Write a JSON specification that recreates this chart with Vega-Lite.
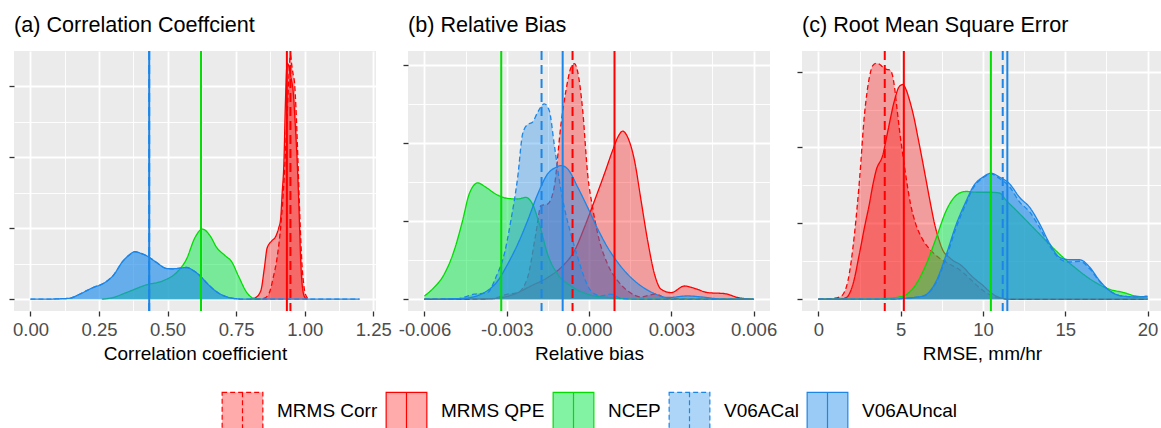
{
  "$schema": "https://vega.github.io/schema/vega-lite/v6.json",
  "padding": {"left": 8, "top": 15, "right": 0, "bottom": 0},
  "bounds": "flush",
  "spacing": 32,
  "datasets": {
    "dens": [
      {"p":"a","s":"MRMS Corr","x":0.82,"y":0},{"p":"a","s":"MRMS Corr","x":0.85,"y":0.05},{"p":"a","s":"MRMS Corr","x":0.87,"y":0.4},{"p":"a","s":"MRMS Corr","x":0.885,"y":1.5},{"p":"a","s":"MRMS Corr","x":0.9,"y":3.0},{"p":"a","s":"MRMS Corr","x":0.912,"y":5.0},{"p":"a","s":"MRMS Corr","x":0.925,"y":8.5},{"p":"a","s":"MRMS Corr","x":0.935,"y":12.5},{"p":"a","s":"MRMS Corr","x":0.942,"y":15.5},{"p":"a","s":"MRMS Corr","x":0.948,"y":17.2},{"p":"a","s":"MRMS Corr","x":0.952,"y":16.6},{"p":"a","s":"MRMS Corr","x":0.958,"y":15.8},{"p":"a","s":"MRMS Corr","x":0.963,"y":15.2},{"p":"a","s":"MRMS Corr","x":0.968,"y":13.5},{"p":"a","s":"MRMS Corr","x":0.975,"y":10.0},{"p":"a","s":"MRMS Corr","x":0.982,"y":6.0},{"p":"a","s":"MRMS Corr","x":0.99,"y":2.5},{"p":"a","s":"MRMS Corr","x":0.998,"y":0.8},{"p":"a","s":"MRMS Corr","x":1.006,"y":0.2},{"p":"a","s":"MRMS Corr","x":1.015,"y":0},
      {"p":"a","s":"MRMS QPE","x":0.8,"y":0},{"p":"a","s":"MRMS QPE","x":0.82,"y":0.1},{"p":"a","s":"MRMS QPE","x":0.84,"y":0.6},{"p":"a","s":"MRMS QPE","x":0.853,"y":2.2},{"p":"a","s":"MRMS QPE","x":0.863,"y":3.6},{"p":"a","s":"MRMS QPE","x":0.88,"y":4.1},{"p":"a","s":"MRMS QPE","x":0.894,"y":4.4},{"p":"a","s":"MRMS QPE","x":0.905,"y":5.0},{"p":"a","s":"MRMS QPE","x":0.912,"y":5.6},{"p":"a","s":"MRMS QPE","x":0.918,"y":7.5},{"p":"a","s":"MRMS QPE","x":0.924,"y":9.5},{"p":"a","s":"MRMS QPE","x":0.93,"y":14.0},{"p":"a","s":"MRMS QPE","x":0.936,"y":16.6},{"p":"a","s":"MRMS QPE","x":0.942,"y":16.4},{"p":"a","s":"MRMS QPE","x":0.95,"y":15.6},{"p":"a","s":"MRMS QPE","x":0.958,"y":14.6},{"p":"a","s":"MRMS QPE","x":0.965,"y":12.5},{"p":"a","s":"MRMS QPE","x":0.973,"y":9.5},{"p":"a","s":"MRMS QPE","x":0.979,"y":6.5},{"p":"a","s":"MRMS QPE","x":0.985,"y":2.9},{"p":"a","s":"MRMS QPE","x":0.992,"y":0.8},{"p":"a","s":"MRMS QPE","x":1.0,"y":0.15},{"p":"a","s":"MRMS QPE","x":1.01,"y":0},
      {"p":"a","s":"NCEP","x":0.26,"y":0},{"p":"a","s":"NCEP","x":0.301,"y":0.12},{"p":"a","s":"NCEP","x":0.35,"y":0.47},{"p":"a","s":"NCEP","x":0.423,"y":1.01},{"p":"a","s":"NCEP","x":0.484,"y":1.3},{"p":"a","s":"NCEP","x":0.533,"y":1.88},{"p":"a","s":"NCEP","x":0.569,"y":2.82},{"p":"a","s":"NCEP","x":0.6,"y":4.34},{"p":"a","s":"NCEP","x":0.627,"y":4.93},{"p":"a","s":"NCEP","x":0.655,"y":4.46},{"p":"a","s":"NCEP","x":0.679,"y":3.64},{"p":"a","s":"NCEP","x":0.71,"y":3.06},{"p":"a","s":"NCEP","x":0.734,"y":2.63},{"p":"a","s":"NCEP","x":0.758,"y":1.65},{"p":"a","s":"NCEP","x":0.789,"y":0.47},{"p":"a","s":"NCEP","x":0.813,"y":0.07},{"p":"a","s":"NCEP","x":0.84,"y":0},
      {"p":"a","s":"V06ACal","x":0,"y":0},{"p":"a","s":"V06ACal","x":0.05,"y":0},{"p":"a","s":"V06ACal","x":0.094,"y":0.02},{"p":"a","s":"V06ACal","x":0.143,"y":0.07},{"p":"a","s":"V06ACal","x":0.179,"y":0.35},{"p":"a","s":"V06ACal","x":0.228,"y":0.82},{"p":"a","s":"V06ACal","x":0.265,"y":1.1},{"p":"a","s":"V06ACal","x":0.301,"y":1.65},{"p":"a","s":"V06ACal","x":0.338,"y":2.7},{"p":"a","s":"V06ACal","x":0.36,"y":3.1},{"p":"a","s":"V06ACal","x":0.38,"y":3.34},{"p":"a","s":"V06ACal","x":0.4,"y":3.25},{"p":"a","s":"V06ACal","x":0.423,"y":3.06},{"p":"a","s":"V06ACal","x":0.46,"y":2.58},{"p":"a","s":"V06ACal","x":0.496,"y":2.16},{"p":"a","s":"V06ACal","x":0.52,"y":2.14},{"p":"a","s":"V06ACal","x":0.545,"y":2.18},{"p":"a","s":"V06ACal","x":0.569,"y":2.23},{"p":"a","s":"V06ACal","x":0.595,"y":2.0},{"p":"a","s":"V06ACal","x":0.618,"y":1.65},{"p":"a","s":"V06ACal","x":0.645,"y":1.1},{"p":"a","s":"V06ACal","x":0.667,"y":0.7},{"p":"a","s":"V06ACal","x":0.69,"y":0.38},{"p":"a","s":"V06ACal","x":0.716,"y":0.17},{"p":"a","s":"V06ACal","x":0.74,"y":0.06},{"p":"a","s":"V06ACal","x":0.765,"y":0.01},{"p":"a","s":"V06ACal","x":0.8,"y":0},{"p":"a","s":"V06ACal","x":1.0,"y":0},{"p":"a","s":"V06ACal","x":1.2,"y":0},
      {"p":"a","s":"V06AUncal","x":0,"y":0},{"p":"a","s":"V06AUncal","x":0.05,"y":0},{"p":"a","s":"V06AUncal","x":0.094,"y":0.02},{"p":"a","s":"V06AUncal","x":0.143,"y":0.07},{"p":"a","s":"V06AUncal","x":0.179,"y":0.35},{"p":"a","s":"V06AUncal","x":0.228,"y":0.82},{"p":"a","s":"V06AUncal","x":0.265,"y":1.1},{"p":"a","s":"V06AUncal","x":0.301,"y":1.65},{"p":"a","s":"V06AUncal","x":0.338,"y":2.7},{"p":"a","s":"V06AUncal","x":0.36,"y":3.1},{"p":"a","s":"V06AUncal","x":0.38,"y":3.34},{"p":"a","s":"V06AUncal","x":0.4,"y":3.25},{"p":"a","s":"V06AUncal","x":0.423,"y":3.06},{"p":"a","s":"V06AUncal","x":0.46,"y":2.58},{"p":"a","s":"V06AUncal","x":0.496,"y":2.16},{"p":"a","s":"V06AUncal","x":0.52,"y":2.14},{"p":"a","s":"V06AUncal","x":0.545,"y":2.18},{"p":"a","s":"V06AUncal","x":0.569,"y":2.23},{"p":"a","s":"V06AUncal","x":0.595,"y":2.0},{"p":"a","s":"V06AUncal","x":0.618,"y":1.65},{"p":"a","s":"V06AUncal","x":0.645,"y":1.1},{"p":"a","s":"V06AUncal","x":0.667,"y":0.7},{"p":"a","s":"V06AUncal","x":0.69,"y":0.38},{"p":"a","s":"V06AUncal","x":0.716,"y":0.17},{"p":"a","s":"V06AUncal","x":0.74,"y":0.06},{"p":"a","s":"V06AUncal","x":0.765,"y":0.01},{"p":"a","s":"V06AUncal","x":0.8,"y":0},{"p":"a","s":"V06AUncal","x":1.0,"y":0},{"p":"a","s":"V06AUncal","x":1.2,"y":0},

      {"p":"b","s":"MRMS Corr","x":-0.006,"y":0},{"p":"b","s":"MRMS Corr","x":-0.00358,"y":3},{"p":"b","s":"MRMS Corr","x":-0.00297,"y":26},{"p":"b","s":"MRMS Corr","x":-0.0026,"y":34},{"p":"b","s":"MRMS Corr","x":-0.00224,"y":111},{"p":"b","s":"MRMS Corr","x":-0.00194,"y":333},{"p":"b","s":"MRMS Corr","x":-0.00175,"y":479},{"p":"b","s":"MRMS Corr","x":-0.00151,"y":487},{"p":"b","s":"MRMS Corr","x":-0.00127,"y":573},{"p":"b","s":"MRMS Corr","x":-0.00102,"y":897},{"p":"b","s":"MRMS Corr","x":-0.00084,"y":1068},{"p":"b","s":"MRMS Corr","x":-0.00066,"y":1184},{"p":"b","s":"MRMS Corr","x":-0.00053,"y":1205},{"p":"b","s":"MRMS Corr","x":-0.00041,"y":1162},{"p":"b","s":"MRMS Corr","x":-0.00023,"y":966},{"p":"b","s":"MRMS Corr","x":-0.00005,"y":641},{"p":"b","s":"MRMS Corr","x":0.00013,"y":470},{"p":"b","s":"MRMS Corr","x":0.00032,"y":333},{"p":"b","s":"MRMS Corr","x":0.00068,"y":179},{"p":"b","s":"MRMS Corr","x":0.00105,"y":94},{"p":"b","s":"MRMS Corr","x":0.00141,"y":43},{"p":"b","s":"MRMS Corr","x":0.0019,"y":12},{"p":"b","s":"MRMS Corr","x":0.00239,"y":26},{"p":"b","s":"MRMS Corr","x":0.00287,"y":5},{"p":"b","s":"MRMS Corr","x":0.0037,"y":0},{"p":"b","s":"MRMS Corr","x":0.006,"y":0},
      {"p":"b","s":"MRMS QPE","x":-0.006,"y":0},{"p":"b","s":"MRMS QPE","x":-0.00358,"y":3},{"p":"b","s":"MRMS QPE","x":-0.00273,"y":26},{"p":"b","s":"MRMS QPE","x":-0.00212,"y":68},{"p":"b","s":"MRMS QPE","x":-0.00151,"y":111},{"p":"b","s":"MRMS QPE","x":-0.0009,"y":179},{"p":"b","s":"MRMS QPE","x":-0.00053,"y":248},{"p":"b","s":"MRMS QPE","x":-0.00017,"y":367},{"p":"b","s":"MRMS QPE","x":0.0002,"y":504},{"p":"b","s":"MRMS QPE","x":0.00056,"y":641},{"p":"b","s":"MRMS QPE","x":0.00086,"y":761},{"p":"b","s":"MRMS QPE","x":0.00105,"y":829},{"p":"b","s":"MRMS QPE","x":0.00123,"y":860},{"p":"b","s":"MRMS QPE","x":0.00141,"y":829},{"p":"b","s":"MRMS QPE","x":0.00166,"y":709},{"p":"b","s":"MRMS QPE","x":0.0019,"y":504},{"p":"b","s":"MRMS QPE","x":0.00214,"y":299},{"p":"b","s":"MRMS QPE","x":0.00239,"y":128},{"p":"b","s":"MRMS QPE","x":0.00263,"y":51},{"p":"b","s":"MRMS QPE","x":0.003,"y":34},{"p":"b","s":"MRMS QPE","x":0.00348,"y":68},{"p":"b","s":"MRMS QPE","x":0.00385,"y":56},{"p":"b","s":"MRMS QPE","x":0.00433,"y":34},{"p":"b","s":"MRMS QPE","x":0.00494,"y":29},{"p":"b","s":"MRMS QPE","x":0.00543,"y":9},{"p":"b","s":"MRMS QPE","x":0.006,"y":0},
      {"p":"b","s":"NCEP","x":-0.006,"y":17},{"p":"b","s":"NCEP","x":-0.00565,"y":60},{"p":"b","s":"NCEP","x":-0.00528,"y":128},{"p":"b","s":"NCEP","x":-0.00492,"y":248},{"p":"b","s":"NCEP","x":-0.00461,"y":402},{"p":"b","s":"NCEP","x":-0.00437,"y":538},{"p":"b","s":"NCEP","x":-0.00406,"y":595},{"p":"b","s":"NCEP","x":-0.00376,"y":573},{"p":"b","s":"NCEP","x":-0.0034,"y":538},{"p":"b","s":"NCEP","x":-0.00297,"y":516},{"p":"b","s":"NCEP","x":-0.0026,"y":513},{"p":"b","s":"NCEP","x":-0.0023,"y":521},{"p":"b","s":"NCEP","x":-0.00206,"y":487},{"p":"b","s":"NCEP","x":-0.00181,"y":385},{"p":"b","s":"NCEP","x":-0.00151,"y":231},{"p":"b","s":"NCEP","x":-0.00114,"y":128},{"p":"b","s":"NCEP","x":-0.00066,"y":68},{"p":"b","s":"NCEP","x":-0.00005,"y":26},{"p":"b","s":"NCEP","x":0.00068,"y":9},{"p":"b","s":"NCEP","x":0.0019,"y":0},{"p":"b","s":"NCEP","x":0.006,"y":0},
      {"p":"b","s":"V06ACal","x":-0.006,"y":0},{"p":"b","s":"V06ACal","x":-0.0048,"y":3},{"p":"b","s":"V06ACal","x":-0.00419,"y":26},{"p":"b","s":"V06ACal","x":-0.0037,"y":34},{"p":"b","s":"V06ACal","x":-0.0034,"y":111},{"p":"b","s":"V06ACal","x":-0.00309,"y":231},{"p":"b","s":"V06ACal","x":-0.00285,"y":402},{"p":"b","s":"V06ACal","x":-0.0026,"y":624},{"p":"b","s":"V06ACal","x":-0.00242,"y":846},{"p":"b","s":"V06ACal","x":-0.00224,"y":894},{"p":"b","s":"V06ACal","x":-0.00206,"y":906},{"p":"b","s":"V06ACal","x":-0.00187,"y":957},{"p":"b","s":"V06ACal","x":-0.00163,"y":1000},{"p":"b","s":"V06ACal","x":-0.00145,"y":966},{"p":"b","s":"V06ACal","x":-0.00127,"y":795},{"p":"b","s":"V06ACal","x":-0.00108,"y":607},{"p":"b","s":"V06ACal","x":-0.0009,"y":470},{"p":"b","s":"V06ACal","x":-0.00066,"y":333},{"p":"b","s":"V06ACal","x":-0.00041,"y":214},{"p":"b","s":"V06ACal","x":-0.00017,"y":111},{"p":"b","s":"V06ACal","x":0.00007,"y":43},{"p":"b","s":"V06ACal","x":0.00044,"y":17},{"p":"b","s":"V06ACal","x":0.0008,"y":26},{"p":"b","s":"V06ACal","x":0.00117,"y":5},{"p":"b","s":"V06ACal","x":0.0019,"y":0},{"p":"b","s":"V06ACal","x":0.006,"y":0},
      {"p":"b","s":"V06AUncal","x":-0.006,"y":0},{"p":"b","s":"V06AUncal","x":-0.00455,"y":5},{"p":"b","s":"V06AUncal","x":-0.00382,"y":34},{"p":"b","s":"V06AUncal","x":-0.00333,"y":94},{"p":"b","s":"V06AUncal","x":-0.00297,"y":179},{"p":"b","s":"V06AUncal","x":-0.0026,"y":282},{"p":"b","s":"V06AUncal","x":-0.00224,"y":402},{"p":"b","s":"V06AUncal","x":-0.00187,"y":538},{"p":"b","s":"V06AUncal","x":-0.00151,"y":641},{"p":"b","s":"V06AUncal","x":-0.0012,"y":675},{"p":"b","s":"V06AUncal","x":-0.00102,"y":684},{"p":"b","s":"V06AUncal","x":-0.00078,"y":667},{"p":"b","s":"V06AUncal","x":-0.00041,"y":573},{"p":"b","s":"V06AUncal","x":-0.00005,"y":470},{"p":"b","s":"V06AUncal","x":0.00032,"y":359},{"p":"b","s":"V06AUncal","x":0.00068,"y":265},{"p":"b","s":"V06AUncal","x":0.00105,"y":188},{"p":"b","s":"V06AUncal","x":0.00141,"y":128},{"p":"b","s":"V06AUncal","x":0.0019,"y":68},{"p":"b","s":"V06AUncal","x":0.00239,"y":29},{"p":"b","s":"V06AUncal","x":0.00287,"y":9},{"p":"b","s":"V06AUncal","x":0.0036,"y":17},{"p":"b","s":"V06AUncal","x":0.00409,"y":12},{"p":"b","s":"V06AUncal","x":0.00494,"y":0},{"p":"b","s":"V06AUncal","x":0.006,"y":0},

      {"p":"c","s":"MRMS Corr","x":0,"y":0},{"p":"c","s":"MRMS Corr","x":0.87,"y":0.001},{"p":"c","s":"MRMS Corr","x":1.38,"y":0.004},{"p":"c","s":"MRMS Corr","x":1.79,"y":0.024},{"p":"c","s":"MRMS Corr","x":2.19,"y":0.086},{"p":"c","s":"MRMS Corr","x":2.49,"y":0.156},{"p":"c","s":"MRMS Corr","x":2.8,"y":0.244},{"p":"c","s":"MRMS Corr","x":3.1,"y":0.293},{"p":"c","s":"MRMS Corr","x":3.3,"y":0.308},{"p":"c","s":"MRMS Corr","x":3.51,"y":0.311},{"p":"c","s":"MRMS Corr","x":3.7,"y":0.31},{"p":"c","s":"MRMS Corr","x":3.91,"y":0.306},{"p":"c","s":"MRMS Corr","x":4.15,"y":0.303},{"p":"c","s":"MRMS Corr","x":4.36,"y":0.302},{"p":"c","s":"MRMS Corr","x":4.5,"y":0.295},{"p":"c","s":"MRMS Corr","x":4.62,"y":0.28},{"p":"c","s":"MRMS Corr","x":4.78,"y":0.25},{"p":"c","s":"MRMS Corr","x":4.93,"y":0.222},{"p":"c","s":"MRMS Corr","x":5.13,"y":0.19},{"p":"c","s":"MRMS Corr","x":5.33,"y":0.16},{"p":"c","s":"MRMS Corr","x":5.6,"y":0.125},{"p":"c","s":"MRMS Corr","x":5.9,"y":0.1},{"p":"c","s":"MRMS Corr","x":6.3,"y":0.08},{"p":"c","s":"MRMS Corr","x":6.8,"y":0.065},{"p":"c","s":"MRMS Corr","x":7.3,"y":0.055},{"p":"c","s":"MRMS Corr","x":7.9,"y":0.047},{"p":"c","s":"MRMS Corr","x":8.5,"y":0.04},{"p":"c","s":"MRMS Corr","x":9.2,"y":0.027},{"p":"c","s":"MRMS Corr","x":9.9,"y":0.013},{"p":"c","s":"MRMS Corr","x":10.6,"y":0.004},{"p":"c","s":"MRMS Corr","x":11.4,"y":0.0005},{"p":"c","s":"MRMS Corr","x":12,"y":0},{"p":"c","s":"MRMS Corr","x":20,"y":0},
      {"p":"c","s":"MRMS QPE","x":0,"y":0},{"p":"c","s":"MRMS QPE","x":1.2,"y":0},{"p":"c","s":"MRMS QPE","x":1.68,"y":0.002},{"p":"c","s":"MRMS QPE","x":2.1,"y":0.02},{"p":"c","s":"MRMS QPE","x":2.49,"y":0.06},{"p":"c","s":"MRMS QPE","x":2.8,"y":0.095},{"p":"c","s":"MRMS QPE","x":3.1,"y":0.126},{"p":"c","s":"MRMS QPE","x":3.3,"y":0.15},{"p":"c","s":"MRMS QPE","x":3.51,"y":0.17},{"p":"c","s":"MRMS QPE","x":3.91,"y":0.19},{"p":"c","s":"MRMS QPE","x":4.22,"y":0.222},{"p":"c","s":"MRMS QPE","x":4.62,"y":0.262},{"p":"c","s":"MRMS QPE","x":4.9,"y":0.28},{"p":"c","s":"MRMS QPE","x":5.13,"y":0.283},{"p":"c","s":"MRMS QPE","x":5.35,"y":0.275},{"p":"c","s":"MRMS QPE","x":5.54,"y":0.262},{"p":"c","s":"MRMS QPE","x":5.8,"y":0.24},{"p":"c","s":"MRMS QPE","x":6.04,"y":0.214},{"p":"c","s":"MRMS QPE","x":6.3,"y":0.185},{"p":"c","s":"MRMS QPE","x":6.55,"y":0.156},{"p":"c","s":"MRMS QPE","x":6.8,"y":0.127},{"p":"c","s":"MRMS QPE","x":7.06,"y":0.099},{"p":"c","s":"MRMS QPE","x":7.3,"y":0.08},{"p":"c","s":"MRMS QPE","x":7.57,"y":0.064},{"p":"c","s":"MRMS QPE","x":7.9,"y":0.056},{"p":"c","s":"MRMS QPE","x":8.17,"y":0.051},{"p":"c","s":"MRMS QPE","x":8.58,"y":0.046},{"p":"c","s":"MRMS QPE","x":8.9,"y":0.04},{"p":"c","s":"MRMS QPE","x":9.19,"y":0.033},{"p":"c","s":"MRMS QPE","x":9.6,"y":0.025},{"p":"c","s":"MRMS QPE","x":10.0,"y":0.018},{"p":"c","s":"MRMS QPE","x":10.4,"y":0.01},{"p":"c","s":"MRMS QPE","x":10.8,"y":0.004},{"p":"c","s":"MRMS QPE","x":11.6,"y":0},{"p":"c","s":"MRMS QPE","x":20,"y":0},
      {"p":"c","s":"NCEP","x":0,"y":0},{"p":"c","s":"NCEP","x":3.5,"y":0},{"p":"c","s":"NCEP","x":4.12,"y":0.001},{"p":"c","s":"NCEP","x":5.13,"y":0.004},{"p":"c","s":"NCEP","x":5.94,"y":0.02},{"p":"c","s":"NCEP","x":6.55,"y":0.046},{"p":"c","s":"NCEP","x":7.16,"y":0.081},{"p":"c","s":"NCEP","x":7.77,"y":0.117},{"p":"c","s":"NCEP","x":8.1,"y":0.13},{"p":"c","s":"NCEP","x":8.38,"y":0.137},{"p":"c","s":"NCEP","x":8.7,"y":0.141},{"p":"c","s":"NCEP","x":8.99,"y":0.142},{"p":"c","s":"NCEP","x":9.59,"y":0.141},{"p":"c","s":"NCEP","x":10.4,"y":0.141},{"p":"c","s":"NCEP","x":11.0,"y":0.14},{"p":"c","s":"NCEP","x":11.42,"y":0.13},{"p":"c","s":"NCEP","x":12.03,"y":0.117},{"p":"c","s":"NCEP","x":12.84,"y":0.099},{"p":"c","s":"NCEP","x":13.65,"y":0.081},{"p":"c","s":"NCEP","x":14.67,"y":0.059},{"p":"c","s":"NCEP","x":15.68,"y":0.04},{"p":"c","s":"NCEP","x":16.69,"y":0.024},{"p":"c","s":"NCEP","x":17.7,"y":0.013},{"p":"c","s":"NCEP","x":18.5,"y":0.009},{"p":"c","s":"NCEP","x":19.33,"y":0.004},{"p":"c","s":"NCEP","x":20,"y":0.003},
      {"p":"c","s":"V06ACal","x":0,"y":0},{"p":"c","s":"V06ACal","x":4.5,"y":0},{"p":"c","s":"V06ACal","x":5.13,"y":0.001},{"p":"c","s":"V06ACal","x":6.35,"y":0.004},{"p":"c","s":"V06ACal","x":7.16,"y":0.022},{"p":"c","s":"V06ACal","x":7.77,"y":0.055},{"p":"c","s":"V06ACal","x":8.38,"y":0.095},{"p":"c","s":"V06ACal","x":8.99,"y":0.127},{"p":"c","s":"V06ACal","x":9.39,"y":0.146},{"p":"c","s":"V06ACal","x":10.0,"y":0.16},{"p":"c","s":"V06ACal","x":10.5,"y":0.165},{"p":"c","s":"V06ACal","x":11.0,"y":0.159},{"p":"c","s":"V06ACal","x":11.62,"y":0.148},{"p":"c","s":"V06ACal","x":12.23,"y":0.128},{"p":"c","s":"V06ACal","x":12.84,"y":0.115},{"p":"c","s":"V06ACal","x":13.45,"y":0.094},{"p":"c","s":"V06ACal","x":14.06,"y":0.07},{"p":"c","s":"V06ACal","x":14.67,"y":0.053},{"p":"c","s":"V06ACal","x":15.27,"y":0.049},{"p":"c","s":"V06ACal","x":15.88,"y":0.05},{"p":"c","s":"V06ACal","x":16.49,"y":0.04},{"p":"c","s":"V06ACal","x":17.1,"y":0.023},{"p":"c","s":"V06ACal","x":17.7,"y":0.011},{"p":"c","s":"V06ACal","x":18.5,"y":0.004},{"p":"c","s":"V06ACal","x":19.33,"y":0.003},{"p":"c","s":"V06ACal","x":20,"y":0.004},
      {"p":"c","s":"V06AUncal","x":0,"y":0},{"p":"c","s":"V06AUncal","x":4.5,"y":0},{"p":"c","s":"V06AUncal","x":5.13,"y":0.001},{"p":"c","s":"V06AUncal","x":6.35,"y":0.004},{"p":"c","s":"V06AUncal","x":7.16,"y":0.024},{"p":"c","s":"V06AUncal","x":7.77,"y":0.059},{"p":"c","s":"V06AUncal","x":8.38,"y":0.099},{"p":"c","s":"V06AUncal","x":8.99,"y":0.13},{"p":"c","s":"V06AUncal","x":9.39,"y":0.148},{"p":"c","s":"V06AUncal","x":10.0,"y":0.161},{"p":"c","s":"V06AUncal","x":10.5,"y":0.166},{"p":"c","s":"V06AUncal","x":11.0,"y":0.161},{"p":"c","s":"V06AUncal","x":11.62,"y":0.152},{"p":"c","s":"V06AUncal","x":12.23,"y":0.134},{"p":"c","s":"V06AUncal","x":12.84,"y":0.121},{"p":"c","s":"V06AUncal","x":13.45,"y":0.099},{"p":"c","s":"V06AUncal","x":14.06,"y":0.073},{"p":"c","s":"V06AUncal","x":14.67,"y":0.055},{"p":"c","s":"V06AUncal","x":15.27,"y":0.052},{"p":"c","s":"V06AUncal","x":15.88,"y":0.052},{"p":"c","s":"V06AUncal","x":16.49,"y":0.042},{"p":"c","s":"V06AUncal","x":17.1,"y":0.024},{"p":"c","s":"V06AUncal","x":17.7,"y":0.011},{"p":"c","s":"V06AUncal","x":18.5,"y":0.004},{"p":"c","s":"V06AUncal","x":19.33,"y":0.003},{"p":"c","s":"V06AUncal","x":20,"y":0.004}
    ],
    "means": [
      {"p":"a","s":"MRMS Corr","x":0.948},{"p":"a","s":"MRMS QPE","x":0.935},{"p":"a","s":"NCEP","x":0.622},{"p":"a","s":"V06ACal","x":0.433},{"p":"a","s":"V06AUncal","x":0.433},
      {"p":"b","s":"MRMS Corr","x":-0.0006},{"p":"b","s":"MRMS QPE","x":0.00093},{"p":"b","s":"NCEP","x":-0.0032},{"p":"b","s":"V06ACal","x":-0.00173},{"p":"b","s":"V06AUncal","x":-0.00096},
      {"p":"c","s":"MRMS Corr","x":4.03},{"p":"c","s":"MRMS QPE","x":5.19},{"p":"c","s":"NCEP","x":10.48},{"p":"c","s":"V06ACal","x":11.2},{"p":"c","s":"V06AUncal","x":11.48}
    ]
  },
  "hconcat": [
    {
      "width": 362, "height": 260,
      "title": {"text": "(a) Correlation Coeffcient", "anchor": "start", "frame": "group", "fontSize": 21.6, "fontWeight": "normal", "color": "black", "baseline": "alphabetic", "offset": -4},
      "layer": [
        {"data": {"name": "dens"}, "transform": [{"filter": "datum.p === 'a' && (datum.s === 'MRMS Corr' || datum.s === 'MRMS QPE')"}],
         "mark": {"type": "area", "interpolate": "monotone", "opacity": 1},
         "encoding": {
           "x": {"field": "x", "type": "quantitative", "scale": {"domain": [-0.06, 1.26], "nice": false, "zero": false},
                 "axis": {"values": [0, 0.25, 0.5, 0.75, 1, 1.25], "format": ".2f", "title": "Correlation coefficient", "grid": true, "gridWidth": 1.8}},
           "y": {"field": "y", "type": "quantitative", "stack": null, "scale": {"domain": [-0.83, 17.46], "nice": false, "zero": false},
                 "axis": {"values": [0, 5, 10, 15], "labels": false, "title": null, "grid": true, "gridWidth": 1.8}},
           "fill": {"field": "s", "type": "nominal",
                    "scale": {"domain": ["MRMS Corr", "MRMS QPE", "NCEP", "V06ACal", "V06AUncal"], "range": ["rgba(255,0,0,0.33)", "rgba(255,0,0,0.33)", "rgba(5,232,70,0.5)", "rgba(30,140,235,0.37)", "rgba(30,140,235,0.45)"]},
                    "legend": {"title": null, "symbolType": "M-1.1,-1H1.1V1H-1.1Z M0,-1V1"}}
         }},
        {"data": {"name": "dens"}, "transform": [{"filter": "datum.p === 'a' && (datum.s === 'MRMS Corr' || datum.s === 'MRMS QPE')"}],
         "mark": {"type": "line", "interpolate": "monotone", "strokeWidth": 1.3},
         "encoding": {
           "x": {"field": "x", "type": "quantitative", "axis": {"orient": "top", "values": [0.125, 0.375, 0.625, 0.875, 1.125], "labels": false, "ticks": false, "tickSize": 0, "labelPadding": 0, "minExtent": 0, "maxExtent": 0, "title": null, "grid": true, "gridWidth": 0.9}},
           "y": {"field": "y", "type": "quantitative", "axis": {"orient": "right", "values": [2.5, 7.5, 12.5], "labels": false, "ticks": false, "tickSize": 0, "labelPadding": 0, "minExtent": 0, "maxExtent": 0, "title": null, "grid": true, "gridWidth": 0.9}},
           "stroke": {"field": "s", "type": "nominal", "scale": {"domain": ["MRMS Corr", "MRMS QPE", "NCEP", "V06ACal", "V06AUncal"], "range": ["#FF0000", "#FF0000", "#00DE00", "#1B86E8", "#1B86E8"]},
                      "legend": {"title": null, "symbolType": "M-1.1,-1H1.1V1H-1.1Z M0,-1V1"}},
           "strokeDash": {"field": "s", "type": "nominal", "scale": {"domain": ["MRMS Corr", "MRMS QPE", "NCEP", "V06ACal", "V06AUncal"], "range": [[5, 3], [1, 0], [1, 0], [5, 3], [1, 0]]},
                          "legend": {"title": null, "symbolType": "M-1.1,-1H1.1V1H-1.1Z M0,-1V1"}}
         }},
        {"data": {"name": "dens"}, "transform": [{"filter": "datum.p === 'a' && datum.s === 'NCEP'"}],
         "mark": {"type": "area", "interpolate": "monotone", "opacity": 1},
         "encoding": {"x": {"field": "x", "type": "quantitative", "axis": null}, "y": {"field": "y", "type": "quantitative", "stack": null, "axis": null},
                      "fill": {"field": "s", "type": "nominal", "legend": {"title": null, "symbolType": "M-1.1,-1H1.1V1H-1.1Z M0,-1V1"}}}},
        {"data": {"name": "dens"}, "transform": [{"filter": "datum.p === 'a' && datum.s === 'NCEP'"}],
         "mark": {"type": "line", "interpolate": "monotone", "strokeWidth": 1.3},
         "encoding": {"x": {"field": "x", "type": "quantitative", "axis": null}, "y": {"field": "y", "type": "quantitative", "axis": null},
                      "stroke": {"field": "s", "type": "nominal", "legend": {"title": null, "symbolType": "M-1.1,-1H1.1V1H-1.1Z M0,-1V1"}},
                      "strokeDash": {"field": "s", "type": "nominal", "legend": {"title": null, "symbolType": "M-1.1,-1H1.1V1H-1.1Z M0,-1V1"}}}},
        {"data": {"name": "dens"}, "transform": [{"filter": "datum.p === 'a' && datum.s === 'V06ACal'"}],
         "mark": {"type": "area", "interpolate": "monotone", "opacity": 1},
         "encoding": {"x": {"field": "x", "type": "quantitative", "axis": null}, "y": {"field": "y", "type": "quantitative", "stack": null, "axis": null},
                      "fill": {"field": "s", "type": "nominal", "legend": {"title": null, "symbolType": "M-1.1,-1H1.1V1H-1.1Z M0,-1V1"}}}},
        {"data": {"name": "dens"}, "transform": [{"filter": "datum.p === 'a' && datum.s === 'V06ACal'"}],
         "mark": {"type": "line", "interpolate": "monotone", "strokeWidth": 1.3},
         "encoding": {"x": {"field": "x", "type": "quantitative", "axis": null}, "y": {"field": "y", "type": "quantitative", "axis": null},
                      "stroke": {"field": "s", "type": "nominal", "legend": {"title": null, "symbolType": "M-1.1,-1H1.1V1H-1.1Z M0,-1V1"}},
                      "strokeDash": {"field": "s", "type": "nominal", "legend": {"title": null, "symbolType": "M-1.1,-1H1.1V1H-1.1Z M0,-1V1"}}}},
        {"data": {"name": "dens"}, "transform": [{"filter": "datum.p === 'a' && datum.s === 'V06AUncal'"}],
         "mark": {"type": "area", "interpolate": "monotone", "opacity": 1},
         "encoding": {"x": {"field": "x", "type": "quantitative", "axis": null}, "y": {"field": "y", "type": "quantitative", "stack": null, "axis": null},
                      "fill": {"field": "s", "type": "nominal", "legend": {"title": null, "symbolType": "M-1.1,-1H1.1V1H-1.1Z M0,-1V1"}}}},
        {"data": {"name": "dens"}, "transform": [{"filter": "datum.p === 'a' && datum.s === 'V06AUncal'"}],
         "mark": {"type": "line", "interpolate": "monotone", "strokeWidth": 1.3},
         "encoding": {"x": {"field": "x", "type": "quantitative", "axis": null}, "y": {"field": "y", "type": "quantitative", "axis": null},
                      "stroke": {"field": "s", "type": "nominal", "legend": {"title": null, "symbolType": "M-1.1,-1H1.1V1H-1.1Z M0,-1V1"}},
                      "strokeDash": {"field": "s", "type": "nominal", "legend": {"title": null, "symbolType": "M-1.1,-1H1.1V1H-1.1Z M0,-1V1"}}}},
        {"data": {"name": "means"}, "transform": [{"filter": "datum.p === 'a'"}],
         "mark": {"type": "rule", "strokeWidth": 2},
         "encoding": {
           "x": {"field": "x", "type": "quantitative", "axis": null},
           "stroke": {"field": "s", "type": "nominal", "legend": {"title": null, "symbolType": "M-1.1,-1H1.1V1H-1.1Z M0,-1V1"}},
           "strokeDash": {"condition": {"test": "datum.s === 'MRMS Corr' || datum.s === 'V06ACal'", "value": [9, 5]}, "value": [1, 0]}
         }}
      ],
      "resolve": {"axis": {"x": "independent", "y": "independent"}}
    },
    {
      "width": 362, "height": 260,
      "title": {"text": "(b) Relative Bias", "anchor": "start", "frame": "group", "fontSize": 21.6, "fontWeight": "normal", "color": "black", "baseline": "alphabetic", "offset": -4},
      "layer": [
        {"data": {"name": "dens"}, "transform": [{"filter": "datum.p === 'b' && (datum.s === 'MRMS Corr' || datum.s === 'MRMS QPE')"}],
         "mark": {"type": "area", "interpolate": "monotone", "opacity": 1},
         "encoding": {
           "x": {"field": "x", "type": "quantitative", "scale": {"domain": [-0.0066, 0.0066], "nice": false, "zero": false},
                 "axis": {"values": [-0.006, -0.003, 0, 0.003, 0.006], "format": ".3f", "title": "Relative bias", "grid": true, "gridWidth": 1.8}},
           "y": {"field": "y", "type": "quantitative", "stack": null, "scale": {"domain": [-60, 1270], "nice": false, "zero": false},
                 "axis": {"values": [0, 400, 800, 1200], "labels": false, "title": null, "grid": true, "gridWidth": 1.8}},
           "fill": {"field": "s", "type": "nominal", "legend": {"title": null, "symbolType": "M-1.1,-1H1.1V1H-1.1Z M0,-1V1"}}
         }},
        {"data": {"name": "dens"}, "transform": [{"filter": "datum.p === 'b' && (datum.s === 'MRMS Corr' || datum.s === 'MRMS QPE')"}],
         "mark": {"type": "line", "interpolate": "monotone", "strokeWidth": 1.3},
         "encoding": {
           "x": {"field": "x", "type": "quantitative", "axis": {"orient": "top", "values": [-0.0045, -0.0015, 0.0015, 0.0045], "labels": false, "ticks": false, "tickSize": 0, "labelPadding": 0, "minExtent": 0, "maxExtent": 0, "title": null, "grid": true, "gridWidth": 0.9}},
           "y": {"field": "y", "type": "quantitative", "axis": {"orient": "right", "values": [200, 600, 1000], "labels": false, "ticks": false, "tickSize": 0, "labelPadding": 0, "minExtent": 0, "maxExtent": 0, "title": null, "grid": true, "gridWidth": 0.9}},
           "stroke": {"field": "s", "type": "nominal", "legend": {"title": null, "symbolType": "M-1.1,-1H1.1V1H-1.1Z M0,-1V1"}},
           "strokeDash": {"field": "s", "type": "nominal", "legend": {"title": null, "symbolType": "M-1.1,-1H1.1V1H-1.1Z M0,-1V1"}}
         }},
        {"data": {"name": "dens"}, "transform": [{"filter": "datum.p === 'b' && datum.s === 'NCEP'"}],
         "mark": {"type": "area", "interpolate": "monotone", "opacity": 1},
         "encoding": {"x": {"field": "x", "type": "quantitative", "axis": null}, "y": {"field": "y", "type": "quantitative", "stack": null, "axis": null},
                      "fill": {"field": "s", "type": "nominal", "legend": {"title": null, "symbolType": "M-1.1,-1H1.1V1H-1.1Z M0,-1V1"}}}},
        {"data": {"name": "dens"}, "transform": [{"filter": "datum.p === 'b' && datum.s === 'NCEP'"}],
         "mark": {"type": "line", "interpolate": "monotone", "strokeWidth": 1.3},
         "encoding": {"x": {"field": "x", "type": "quantitative", "axis": null}, "y": {"field": "y", "type": "quantitative", "axis": null},
                      "stroke": {"field": "s", "type": "nominal", "legend": {"title": null, "symbolType": "M-1.1,-1H1.1V1H-1.1Z M0,-1V1"}},
                      "strokeDash": {"field": "s", "type": "nominal", "legend": {"title": null, "symbolType": "M-1.1,-1H1.1V1H-1.1Z M0,-1V1"}}}},
        {"data": {"name": "dens"}, "transform": [{"filter": "datum.p === 'b' && datum.s === 'V06ACal'"}],
         "mark": {"type": "area", "interpolate": "monotone", "opacity": 1},
         "encoding": {"x": {"field": "x", "type": "quantitative", "axis": null}, "y": {"field": "y", "type": "quantitative", "stack": null, "axis": null},
                      "fill": {"field": "s", "type": "nominal", "legend": {"title": null, "symbolType": "M-1.1,-1H1.1V1H-1.1Z M0,-1V1"}}}},
        {"data": {"name": "dens"}, "transform": [{"filter": "datum.p === 'b' && datum.s === 'V06ACal'"}],
         "mark": {"type": "line", "interpolate": "monotone", "strokeWidth": 1.3},
         "encoding": {"x": {"field": "x", "type": "quantitative", "axis": null}, "y": {"field": "y", "type": "quantitative", "axis": null},
                      "stroke": {"field": "s", "type": "nominal", "legend": {"title": null, "symbolType": "M-1.1,-1H1.1V1H-1.1Z M0,-1V1"}},
                      "strokeDash": {"field": "s", "type": "nominal", "legend": {"title": null, "symbolType": "M-1.1,-1H1.1V1H-1.1Z M0,-1V1"}}}},
        {"data": {"name": "dens"}, "transform": [{"filter": "datum.p === 'b' && datum.s === 'V06AUncal'"}],
         "mark": {"type": "area", "interpolate": "monotone", "opacity": 1},
         "encoding": {"x": {"field": "x", "type": "quantitative", "axis": null}, "y": {"field": "y", "type": "quantitative", "stack": null, "axis": null},
                      "fill": {"field": "s", "type": "nominal", "legend": {"title": null, "symbolType": "M-1.1,-1H1.1V1H-1.1Z M0,-1V1"}}}},
        {"data": {"name": "dens"}, "transform": [{"filter": "datum.p === 'b' && datum.s === 'V06AUncal'"}],
         "mark": {"type": "line", "interpolate": "monotone", "strokeWidth": 1.3},
         "encoding": {"x": {"field": "x", "type": "quantitative", "axis": null}, "y": {"field": "y", "type": "quantitative", "axis": null},
                      "stroke": {"field": "s", "type": "nominal", "legend": {"title": null, "symbolType": "M-1.1,-1H1.1V1H-1.1Z M0,-1V1"}},
                      "strokeDash": {"field": "s", "type": "nominal", "legend": {"title": null, "symbolType": "M-1.1,-1H1.1V1H-1.1Z M0,-1V1"}}}},
        {"data": {"name": "means"}, "transform": [{"filter": "datum.p === 'b'"}],
         "mark": {"type": "rule", "strokeWidth": 2},
         "encoding": {
           "x": {"field": "x", "type": "quantitative", "axis": null},
           "stroke": {"field": "s", "type": "nominal", "legend": {"title": null, "symbolType": "M-1.1,-1H1.1V1H-1.1Z M0,-1V1"}},
           "strokeDash": {"condition": {"test": "datum.s === 'MRMS Corr' || datum.s === 'V06ACal'", "value": [9, 5]}, "value": [1, 0]}
         }}
      ],
      "resolve": {"axis": {"x": "independent", "y": "independent"}}
    },
    {
      "width": 360, "height": 260,
      "title": {"text": "(c) Root Mean Square Error", "anchor": "start", "frame": "group", "fontSize": 21.6, "fontWeight": "normal", "color": "black", "baseline": "alphabetic", "offset": -4},
      "layer": [
        {"data": {"name": "dens"}, "transform": [{"filter": "datum.p === 'c' && (datum.s === 'MRMS Corr' || datum.s === 'MRMS QPE')"}],
         "mark": {"type": "area", "interpolate": "monotone", "opacity": 1},
         "encoding": {
           "x": {"field": "x", "type": "quantitative", "scale": {"domain": [-1, 20.88], "nice": false, "zero": false},
                 "axis": {"values": [0, 5, 10, 15, 20], "format": "d", "title": "RMSE, mm/hr", "grid": true, "gridWidth": 1.8}},
           "y": {"field": "y", "type": "quantitative", "stack": null, "scale": {"domain": [-0.0156, 0.3272], "nice": false, "zero": false},
                 "axis": {"values": [0, 0.1, 0.2, 0.3], "labels": false, "title": null, "grid": true, "gridWidth": 1.8}},
           "fill": {"field": "s", "type": "nominal", "legend": {"title": null, "symbolType": "M-1.1,-1H1.1V1H-1.1Z M0,-1V1"}}
         }},
        {"data": {"name": "dens"}, "transform": [{"filter": "datum.p === 'c' && (datum.s === 'MRMS Corr' || datum.s === 'MRMS QPE')"}],
         "mark": {"type": "line", "interpolate": "monotone", "strokeWidth": 1.3},
         "encoding": {
           "x": {"field": "x", "type": "quantitative", "axis": {"orient": "top", "values": [2.5, 7.5, 12.5, 17.5], "labels": false, "ticks": false, "tickSize": 0, "labelPadding": 0, "minExtent": 0, "maxExtent": 0, "title": null, "grid": true, "gridWidth": 0.9}},
           "y": {"field": "y", "type": "quantitative", "axis": {"orient": "right", "values": [0.05, 0.15, 0.25], "labels": false, "ticks": false, "tickSize": 0, "labelPadding": 0, "minExtent": 0, "maxExtent": 0, "title": null, "grid": true, "gridWidth": 0.9}},
           "stroke": {"field": "s", "type": "nominal", "legend": {"title": null, "symbolType": "M-1.1,-1H1.1V1H-1.1Z M0,-1V1"}},
           "strokeDash": {"field": "s", "type": "nominal", "legend": {"title": null, "symbolType": "M-1.1,-1H1.1V1H-1.1Z M0,-1V1"}}
         }},
        {"data": {"name": "dens"}, "transform": [{"filter": "datum.p === 'c' && datum.s === 'NCEP'"}],
         "mark": {"type": "area", "interpolate": "monotone", "opacity": 1},
         "encoding": {"x": {"field": "x", "type": "quantitative", "axis": null}, "y": {"field": "y", "type": "quantitative", "stack": null, "axis": null},
                      "fill": {"field": "s", "type": "nominal", "legend": {"title": null, "symbolType": "M-1.1,-1H1.1V1H-1.1Z M0,-1V1"}}}},
        {"data": {"name": "dens"}, "transform": [{"filter": "datum.p === 'c' && datum.s === 'NCEP'"}],
         "mark": {"type": "line", "interpolate": "monotone", "strokeWidth": 1.3},
         "encoding": {"x": {"field": "x", "type": "quantitative", "axis": null}, "y": {"field": "y", "type": "quantitative", "axis": null},
                      "stroke": {"field": "s", "type": "nominal", "legend": {"title": null, "symbolType": "M-1.1,-1H1.1V1H-1.1Z M0,-1V1"}},
                      "strokeDash": {"field": "s", "type": "nominal", "legend": {"title": null, "symbolType": "M-1.1,-1H1.1V1H-1.1Z M0,-1V1"}}}},
        {"data": {"name": "dens"}, "transform": [{"filter": "datum.p === 'c' && datum.s === 'V06ACal'"}],
         "mark": {"type": "area", "interpolate": "monotone", "opacity": 1},
         "encoding": {"x": {"field": "x", "type": "quantitative", "axis": null}, "y": {"field": "y", "type": "quantitative", "stack": null, "axis": null},
                      "fill": {"field": "s", "type": "nominal", "legend": {"title": null, "symbolType": "M-1.1,-1H1.1V1H-1.1Z M0,-1V1"}}}},
        {"data": {"name": "dens"}, "transform": [{"filter": "datum.p === 'c' && datum.s === 'V06ACal'"}],
         "mark": {"type": "line", "interpolate": "monotone", "strokeWidth": 1.3},
         "encoding": {"x": {"field": "x", "type": "quantitative", "axis": null}, "y": {"field": "y", "type": "quantitative", "axis": null},
                      "stroke": {"field": "s", "type": "nominal", "legend": {"title": null, "symbolType": "M-1.1,-1H1.1V1H-1.1Z M0,-1V1"}},
                      "strokeDash": {"field": "s", "type": "nominal", "legend": {"title": null, "symbolType": "M-1.1,-1H1.1V1H-1.1Z M0,-1V1"}}}},
        {"data": {"name": "dens"}, "transform": [{"filter": "datum.p === 'c' && datum.s === 'V06AUncal'"}],
         "mark": {"type": "area", "interpolate": "monotone", "opacity": 1},
         "encoding": {"x": {"field": "x", "type": "quantitative", "axis": null}, "y": {"field": "y", "type": "quantitative", "stack": null, "axis": null},
                      "fill": {"field": "s", "type": "nominal", "legend": {"title": null, "symbolType": "M-1.1,-1H1.1V1H-1.1Z M0,-1V1"}}}},
        {"data": {"name": "dens"}, "transform": [{"filter": "datum.p === 'c' && datum.s === 'V06AUncal'"}],
         "mark": {"type": "line", "interpolate": "monotone", "strokeWidth": 1.3},
         "encoding": {"x": {"field": "x", "type": "quantitative", "axis": null}, "y": {"field": "y", "type": "quantitative", "axis": null},
                      "stroke": {"field": "s", "type": "nominal", "legend": {"title": null, "symbolType": "M-1.1,-1H1.1V1H-1.1Z M0,-1V1"}},
                      "strokeDash": {"field": "s", "type": "nominal", "legend": {"title": null, "symbolType": "M-1.1,-1H1.1V1H-1.1Z M0,-1V1"}}}},
        {"data": {"name": "means"}, "transform": [{"filter": "datum.p === 'c'"}],
         "mark": {"type": "rule", "strokeWidth": 2},
         "encoding": {
           "x": {"field": "x", "type": "quantitative", "axis": null},
           "stroke": {"field": "s", "type": "nominal", "legend": {"title": null, "symbolType": "M-1.1,-1H1.1V1H-1.1Z M0,-1V1"}},
           "strokeDash": {"condition": {"test": "datum.s === 'MRMS Corr' || datum.s === 'V06ACal'", "value": [9, 5]}, "value": [1, 0]}
         }}
      ],
      "resolve": {"axis": {"x": "independent", "y": "independent"}}
    }
  ],
  "resolve": {"scale": {"x": "independent", "y": "independent"}},
  "config": {
    "font": "Liberation Sans",
    "locale": {"number": {"decimal": ".", "thousands": ",", "grouping": [3], "currency": ["$", ""], "minus": "-"}},
    "view": {"fill": "#EBEBEB", "stroke": null},
    "axis": {"domain": false, "tickColor": "#333333", "tickWidth": 1.3, "tickSize": 5, "gridColor": "#FFFFFF", "gridOpacity": 1,
             "labelFontSize": 18.5, "labelColor": "#4D4D4D", "labelPadding": 4, "labelFlush": false, "labelOverlap": false,
             "titleFontSize": 19, "titleFontWeight": "normal", "titleColor": "#000000", "titlePadding": 6},
    "legend": {"orient": "none", "legendX": 209, "legendY": 340, "direction": "horizontal", "padding": 0,
               "symbolSize": 1369, "symbolStrokeWidth": 1.2, "labelFontSize": 19, "labelColor": "#000000", "labelOffset": 15, "columnPadding": 5, "labelLimit": 300}
  }
}
